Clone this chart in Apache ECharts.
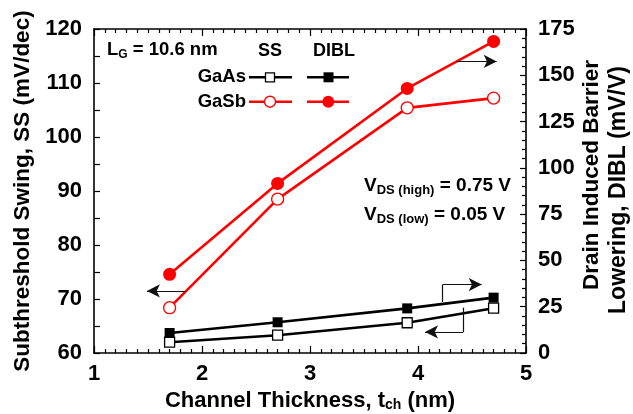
<!DOCTYPE html>
<html>
<head>
    <meta charset="utf-8">
    <title>SS and DIBL vs channel thickness</title>
    <script src="https://cdn.jsdelivr.net/npm/echarts@6/dist/echarts.min.js"></script>
    <style>
        html, body { margin: 0; padding: 0; background: #fff; }
    </style>
</head>
<body>
<div id="main" style="width: 633px;height:414px;"></div>
<script type="text/javascript">
    // channel thickness (nm)
    var tch = [1.7, 2.7, 3.9, 4.7];
    // subthreshold swing (mV/dec), left axis
    var gaAsSS = [62.0, 63.3, 65.6, 68.3];
    var gaSbSS = [68.4, 88.5, 105.4, 107.2];
    // DIBL (mV/V), right axis
    var gaAsDIBL = [10.8, 16.6, 24.1, 29.9];
    var gaSbDIBL = [42.5, 91.6, 142.9, 168.3];

    var FONT = 'Liberation Sans, Arial, sans-serif';
    var RED = '#ff0000';

    function pairs(ys) {
        return tch.map(function (x, i) { return [x, ys[i]]; });
    }

    // helper for arrow annotations (in left-axis coordinates)
    function seg(a, b, arrow) {
        return [{coord: a, symbol: 'none'}, {coord: b, symbol: arrow ? 'arrow' : 'none'}];
    }

    var myChart = echarts.init(document.getElementById('main'));

    var tickStyle = {color: '#000', width: 1.2};
    var labelStyle = {fontFamily: FONT, fontWeight: 'bold', fontSize: 22, color: '#000'};

    var option = {
        animation: false,
        textStyle: {fontFamily: FONT},
        grid: {left: 94, right: 107, top: 29, bottom: 61, outerBoundsMode: 'none', containLabel: false},
        xAxis: [{
            type: 'value',
            min: 1, max: 5, interval: 1,
            name: 'Channel Thickness, {s|t}{sub|ch}{s| (nm)}',
            nameLocation: 'middle',
            nameGap: 32,
            nameTextStyle: {
                fontFamily: FONT, fontWeight: 'bold', fontSize: 22, color: '#000',
                rich: {
                    s: {fontFamily: FONT, fontWeight: 'bold', fontSize: 22, color: '#000'},
                    sub: {fontFamily: FONT, fontWeight: 'bold', fontSize: 14, color: '#000', verticalAlign: 'bottom', lineHeight: 14}
                }
            },
            axisLine: {lineStyle: {color: '#000', width: 1.6}},
            axisTick: {inside: true, length: 7, lineStyle: tickStyle},
            minorTick: {show: true, splitNumber: 10, length: 4, lineStyle: tickStyle},
            axisLabel: Object.assign({margin: 10}, labelStyle),
            splitLine: {show: false}
        }, {
            type: 'value',
            position: 'top',
            min: 1, max: 5, interval: 1,
            axisLine: {show: true, lineStyle: {color: '#000', width: 1.6}},
            axisTick: {inside: true, length: 7, lineStyle: tickStyle},
            minorTick: {show: true, splitNumber: 10, length: 4, lineStyle: tickStyle},
            axisLabel: {show: false},
            splitLine: {show: false}
        }],
        yAxis: [{
            type: 'value',
            position: 'left',
            min: 60, max: 120, interval: 10,
            name: 'Subthreshold Swing, SS (mV/dec)',
            nameLocation: 'middle',
            nameGap: 55,
            nameTextStyle: {fontFamily: FONT, fontWeight: 'bold', fontSize: 22.5, color: '#000'},
            axisLine: {show: true, lineStyle: {color: '#000', width: 1.6}},
            axisTick: {inside: true, length: 6, lineStyle: tickStyle},
            minorTick: {show: true, splitNumber: 2, length: 6, lineStyle: tickStyle},
            axisLabel: Object.assign({margin: 12}, labelStyle),
            splitLine: {show: false}
        }, {
            type: 'value',
            position: 'right',
            min: 0, max: 175, interval: 25,
            axisLine: {show: true, lineStyle: {color: '#000', width: 1.6}},
            axisTick: {inside: true, length: 6, lineStyle: tickStyle},
            minorTick: {show: true, splitNumber: 5, length: 4, lineStyle: tickStyle},
            axisLabel: Object.assign({margin: 12}, labelStyle),
            splitLine: {show: false}
        }],
        series: [{
            name: 'GaAs SS',
            type: 'line',
            yAxisIndex: 0,
            data: pairs(gaAsSS),
            symbol: 'rect', symbolSize: 10,
            lineStyle: {color: '#000', width: 2.6},
            itemStyle: {color: '#fff', borderColor: '#000', borderWidth: 1.3},
            z: 3
        }, {
            name: 'GaAs DIBL',
            type: 'line',
            yAxisIndex: 1,
            data: pairs(gaAsDIBL),
            symbol: 'rect', symbolSize: 10,
            lineStyle: {color: '#000', width: 2.6},
            itemStyle: {color: '#000'},
            z: 3
        }, {
            name: 'GaSb SS',
            type: 'line',
            yAxisIndex: 0,
            data: pairs(gaSbSS),
            symbol: 'circle', symbolSize: 12,
            lineStyle: {color: RED, width: 2.6},
            itemStyle: {color: '#fff', borderColor: RED, borderWidth: 1.4},
            z: 4,
            markLine: {
                silent: true,
                animation: false,
                symbolSize: [10, 13],
                label: {show: false},
                lineStyle: {color: '#111', width: 1.2, type: 'solid'},
                emphasis: {disabled: true},
                data: [
                    seg([1.843, 71.5], [1.49, 71.5], true),
                    seg([4.358, 114.0], [4.729, 114.0], true),
                    seg([4.229, 69.44], [4.229, 72.67], false),
                    seg([4.229, 72.67], [4.59, 72.67], true),
                    seg([4.419, 68.4], [4.419, 63.9], false),
                    seg([4.419, 63.9], [4.065, 63.9], true)
                ]
            }
        }, {
            name: 'GaSb DIBL',
            type: 'line',
            yAxisIndex: 1,
            data: pairs(gaSbDIBL),
            symbol: 'circle', symbolSize: 13,
            lineStyle: {color: RED, width: 2.6},
            itemStyle: {color: RED},
            z: 4
        }],
        graphic: [
            // right axis name, two lines
            {type: 'text', x: 592, y: 175, rotation: Math.PI / 2,
                style: {text: 'Drain Induced Barrier', font: 'bold 22.5px ' + FONT, fill: '#000', align: 'center', verticalAlign: 'middle'}},
            {type: 'text', x: 619, y: 190, rotation: Math.PI / 2,
                style: {text: 'Lowering, DIBL (mV/V)', font: 'bold 23px ' + FONT, fill: '#000', align: 'center', verticalAlign: 'middle'}},
            // L_G label
            {type: 'text', x: 107, y: 50,
                style: {
                    text: '{m|L}{sub|G}{m| = 10.6 nm}', align: 'left', verticalAlign: 'middle',
                    rich: {
                        m: {font: 'bold 18.5px ' + FONT, fill: '#000', lineHeight: 21},
                        sub: {font: 'bold 12px ' + FONT, fill: '#000', verticalAlign: 'bottom', lineHeight: 12}
                    }
                }},
            {type: 'text', x: 270, y: 51, style: {text: 'SS', font: 'bold 18px ' + FONT, fill: '#000', align: 'center', verticalAlign: 'middle'}},
            {type: 'text', x: 334, y: 51, style: {text: 'DIBL', font: 'bold 18px ' + FONT, fill: '#000', align: 'center', verticalAlign: 'middle'}},
            {type: 'text', x: 246, y: 77, style: {text: 'GaAs', font: 'bold 18.5px ' + FONT, fill: '#000', align: 'right', verticalAlign: 'middle'}},
            {type: 'text', x: 246, y: 101.5, style: {text: 'GaSb', font: 'bold 18.5px ' + FONT, fill: '#000', align: 'right', verticalAlign: 'middle'}},
            // legend keys
            {type: 'line', shape: {x1: 249, y1: 77.3, x2: 292, y2: 77.3}, style: {stroke: '#000', lineWidth: 2.6}},
            {type: 'rect', shape: {x: 265.5, y: 72.8, width: 9, height: 9}, style: {fill: '#fff', stroke: '#000', lineWidth: 1.3}},
            {type: 'line', shape: {x1: 307, y1: 77.3, x2: 349, y2: 77.3}, style: {stroke: '#000', lineWidth: 2.6}},
            {type: 'rect', shape: {x: 323.5, y: 72.3, width: 10, height: 10}, style: {fill: '#000'}},
            {type: 'line', shape: {x1: 249, y1: 101.7, x2: 292, y2: 101.7}, style: {stroke: RED, lineWidth: 2.6}},
            {type: 'circle', shape: {cx: 270, cy: 101.7, r: 5.5}, style: {fill: '#fff', stroke: RED, lineWidth: 1.4}},
            {type: 'line', shape: {x1: 307, y1: 101.7, x2: 349, y2: 101.7}, style: {stroke: RED, lineWidth: 2.6}},
            {type: 'circle', shape: {cx: 328.3, cy: 101.7, r: 6}, style: {fill: RED}},
            // bias conditions
            {type: 'text', x: 364, y: 186,
                style: {
                    text: '{m|V}{sub|DS (high)}{m| = 0.75 V}', align: 'left', verticalAlign: 'middle',
                    rich: {
                        m: {font: 'bold 19px ' + FONT, fill: '#000', lineHeight: 22},
                        sub: {font: 'bold 13px ' + FONT, fill: '#000', verticalAlign: 'bottom', lineHeight: 13}
                    }
                }},
            {type: 'text', x: 364, y: 215,
                style: {
                    text: '{m|V}{sub|DS (low)}{m| = 0.05 V}', align: 'left', verticalAlign: 'middle',
                    rich: {
                        m: {font: 'bold 19px ' + FONT, fill: '#000', lineHeight: 22},
                        sub: {font: 'bold 13px ' + FONT, fill: '#000', verticalAlign: 'bottom', lineHeight: 13}
                    }
                }}
        ]
    };

    myChart.setOption(option);
</script>
</body>
</html>
